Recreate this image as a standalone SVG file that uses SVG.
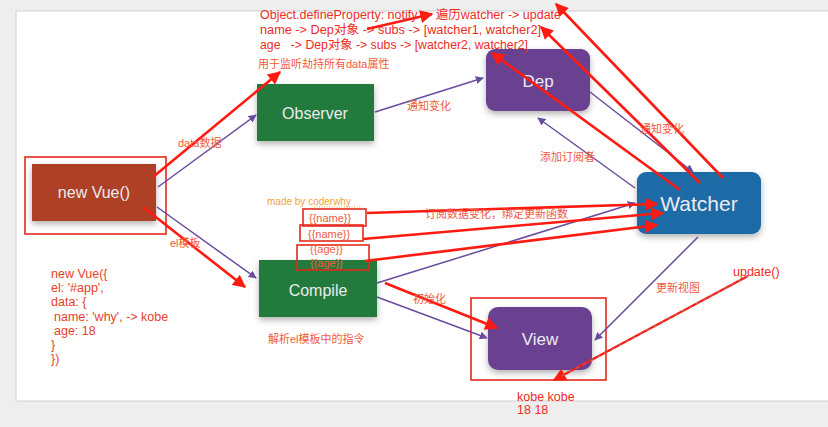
<svg xmlns="http://www.w3.org/2000/svg" width="828" height="427" viewBox="0 0 828 427">
<defs>
<style>
.bg{fill:#eeeeef}
.panel{fill:#ffffff;stroke:#cfcfcf;stroke-width:1}
.node{stroke:none}
.lbl{font-family:"Liberation Sans","Noto Sans CJK SC",sans-serif;fill:#ecebf0;text-anchor:middle}
.note{font-family:"Liberation Sans","Noto Sans CJK SC",sans-serif;fill:#f05a3c;font-size:11px}
.red{font-family:"Liberation Sans","Noto Sans CJK SC",sans-serif;fill:#ee2b1e;font-size:12.5px}
.code{font-family:"Liberation Sans","Noto Sans CJK SC",sans-serif;fill:#e8402a;font-size:12.5px}
.pl{stroke:#6a4c9e;stroke-width:1.5;fill:none}
.rl{stroke:#ff1a12;stroke-width:2.6;fill:none}
.rbox{fill:none;stroke:#e5281c;stroke-width:1.6}
</style>
<marker id="pa" viewBox="0 0 10 10" refX="9" refY="5" markerWidth="8" markerHeight="8" markerUnits="userSpaceOnUse" orient="auto"><path d="M0,0 L10,5 L0,10 z" fill="#6a4c9e"/></marker>
<marker id="ra" viewBox="0 0 10 10" refX="9" refY="5" markerWidth="15" markerHeight="13" markerUnits="userSpaceOnUse" orient="auto"><path d="M0,0 L10,5 L0,10 z" fill="#ff1a12"/></marker>
<filter id="sh" x="-20%" y="-20%" width="140%" height="150%"><feDropShadow dx="0" dy="3" stdDeviation="3" flood-color="#000" flood-opacity="0.3"/></filter>
</defs>
<rect class="bg" x="0" y="0" width="828" height="427"/>
<rect class="panel" x="16" y="11" width="830" height="390"/>

<g id="newvue">
<rect class="node" x="32" y="164" width="124" height="57" fill="#ae4128" filter="url(#sh)"/>
<text class="lbl" x="94" y="198" font-size="16">new Vue()</text>
<rect class="rbox" x="25" y="157" width="141" height="77"/>
</g>
<g id="observer">
<rect class="node" x="257" y="84" width="117" height="57" fill="#217a3c" filter="url(#sh)"/>
<text class="lbl" x="315" y="119" font-size="16">Observer</text>
</g>
<g id="dep">
<rect class="node" x="486" y="49" width="104" height="62" rx="9" fill="#6b4190" filter="url(#sh)"/>
<text class="lbl" x="538" y="87" font-size="17">Dep</text>
</g>
<g id="watcher">
<rect class="node" x="637" y="172" width="124" height="62" rx="9" fill="#1f6aa6" filter="url(#sh)"/>
<text class="lbl" x="699" y="211" font-size="21">Watcher</text>
</g>
<g id="compile">
<rect class="node" x="259" y="260" width="118" height="57" fill="#217a3c" filter="url(#sh)"/>
<text class="lbl" x="318" y="296" font-size="16">Compile</text>
</g>
<g id="view">
<rect class="node" x="488" y="307" width="104" height="63" rx="10" fill="#6b4190" filter="url(#sh)"/>
<text class="lbl" x="540" y="345" font-size="17">View</text>
<rect class="rbox" x="471" y="298" width="135" height="82"/>
</g>

<g id="connectors">
<line class="pl" x1="158" y1="187" x2="256" y2="115" marker-end="url(#pa)"/>
<line class="pl" x1="157" y1="207" x2="256" y2="278" marker-end="url(#pa)"/>
<line class="pl" x1="375" y1="112" x2="483" y2="78" marker-end="url(#pa)"/>
<line class="pl" x1="590" y1="92" x2="693" y2="172" marker-end="url(#pa)"/>
<line class="pl" x1="635" y1="188" x2="538" y2="118" marker-end="url(#pa)"/>
<line class="pl" x1="377" y1="283" x2="635" y2="203" marker-end="url(#pa)"/>
<line class="pl" x1="377" y1="297" x2="487" y2="338" marker-end="url(#pa)"/>
<line class="pl" x1="698" y1="237" x2="595" y2="340" marker-end="url(#pa)"/>

<line class="rl" x1="153" y1="177" x2="280" y2="72" marker-end="url(#ra)"/>
<line class="rl" x1="143" y1="207" x2="245" y2="287" marker-end="url(#ra)"/>
<line class="rl" x1="367" y1="213" x2="657" y2="204" marker-end="url(#ra)"/>
<line class="rl" x1="363" y1="239" x2="663" y2="213" marker-end="url(#ra)"/>
<line class="rl" x1="365" y1="261" x2="657" y2="225" marker-end="url(#ra)"/>
<line class="rl" x1="385" y1="283" x2="497" y2="328" marker-end="url(#ra)"/>
<line class="rl" x1="680" y1="190" x2="492" y2="53" marker-end="url(#ra)"/>
<line class="rl" x1="700" y1="183" x2="541" y2="27" marker-end="url(#ra)"/>
<line class="rl" x1="723" y1="178" x2="556" y2="4" marker-end="url(#ra)"/>
<line class="rl" x1="367" y1="29" x2="432" y2="14" marker-end="url(#ra)"/>
<line x1="748" y1="276" x2="554" y2="380" stroke="#ff1a12" stroke-width="2.2" marker-end="url(#ra)"/>
<line x1="748" y1="276" x2="560" y2="377" stroke="#8a8a8a" stroke-width="1" stroke-dasharray="3 5"/>
</g>

<g id="texts">
<text class="red" x="260" y="19" textLength="301" lengthAdjust="spacingAndGlyphs">Object.defineProperty: notify -&gt; 遍历watcher -&gt; update</text>
<text class="red" x="260" y="34" textLength="281" lengthAdjust="spacingAndGlyphs">name -&gt; Dep对象 -&gt; subs -&gt; [watcher1, watcher2]</text>
<text class="red" x="260" y="49" xml:space="preserve" textLength="268" lengthAdjust="spacingAndGlyphs">age   -&gt; Dep对象 -&gt; subs -&gt; [watcher2, watcher2]</text>
<text class="note" x="258" y="68" fill="#ee2b1e">用于监听劫持所有data属性</text>
<text class="note" x="178" y="147" font-size="10">data数据</text>
<text class="note" x="170" y="247" font-size="10">el模板</text>
<text class="note" x="407" y="110" font-size="10">通知变化</text>
<text class="note" x="540" y="161" font-size="10">添加订阅者</text>
<text class="note" x="640" y="133" font-size="10">通知变化</text>
<text class="note" x="425" y="218" font-size="10">订阅数据变化，绑定更新函数</text>
<text class="note" x="413" y="303" font-size="10">初始化</text>
<text class="note" x="268" y="343" font-size="10">解析el模板中的指令</text>
<text class="note" x="656" y="292" font-size="10">更新视图</text>
<text class="red" x="733" y="276" font-size="11">update()</text>
<text class="red" x="517" y="401" font-size="11">kobe kobe</text>
<text class="red" x="517" y="414" font-size="11">18 18</text>
<text x="267" y="205" font-family="Liberation Sans, sans-serif" font-size="10" fill="#f4a040">made by coderwhy</text>
<line x1="314" y1="207" x2="362" y2="207" stroke="#f4a040" stroke-width="1" stroke-dasharray="1 1.5"/>
<rect class="rbox" x="303" y="209" width="63" height="17"/>
<text class="note" x="309" y="222" font-size="10.5">{{name}}</text>
<rect class="rbox" x="300" y="225" width="63" height="16"/>
<text class="note" x="308" y="238" font-size="10.5">{{name}}</text>
<rect class="rbox" x="297" y="245" width="72" height="25"/>
<text class="note" x="310" y="253" font-size="10.5">{{age}}</text>
<text class="note" x="310" y="267" font-size="10.5">{{age}}</text>
</g>

<g id="code">
<text class="code" x="51" y="278">new Vue({</text>
<text class="code" x="51" y="292">el: '#app',</text>
<text class="code" x="51" y="306">data: {</text>
<text class="code" x="54" y="321">name: 'why', -&gt; kobe</text>
<text class="code" x="54" y="335">age: 18</text>
<text class="code" x="51" y="349">}</text>
<text class="code" x="51" y="363">})</text>
</g>
</svg>
